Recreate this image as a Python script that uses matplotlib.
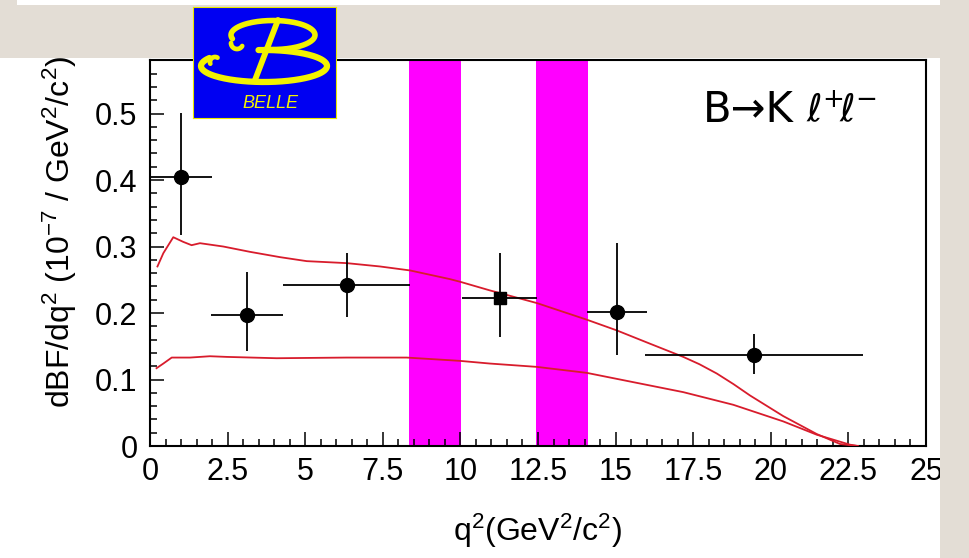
import numpy as np
import matplotlib
matplotlib.use("Agg")
import matplotlib.pyplot as plt
from matplotlib.patches import Rectangle

plt.rcParams['font.family'] = ['Liberation Sans', 'DejaVu Sans']
plt.rcParams['mathtext.default'] = 'regular'

# ---------------- data ----------------
q_center = [0.99, 3.14, 6.34, 11.28, 15.05, 19.46]
dbf = [0.404, 0.197, 0.242, 0.223, 0.202, 0.137]
q_low = [0.00, 1.97, 4.30, 10.04, 14.07, 15.95]
q_high = [2.00, 4.30, 8.38, 12.46, 16.00, 22.98]
err_up = [0.097, 0.064, 0.049, 0.068, 0.103, 0.031]
err_dn = [0.087, 0.054, 0.048, 0.059, 0.065, 0.028]

# theory bands (upper / lower curves)
q_upper = [0.24, 0.43, 0.75, 1.07, 1.34, 1.61, 2.36, 3.22, 4.19, 5.05, 6.34, 7.41,
           8.38, 9.66, 9.99, 10.95, 12.46, 14.07, 15.03, 16.10, 17.18, 17.70, 18.26,
           18.80, 19.33, 20.40, 21.48, 22.23, 22.80]
v_upper = [0.270, 0.290, 0.314, 0.307, 0.302, 0.305, 0.300, 0.292, 0.284, 0.278,
           0.275, 0.270, 0.264, 0.251, 0.247, 0.234, 0.215, 0.190, 0.174, 0.154,
           0.134, 0.123, 0.109, 0.093, 0.076, 0.045, 0.018, 0.003, 0.0]
q_lower = [0.21, 0.43, 0.70, 1.29, 1.93, 2.47, 4.08, 6.34, 8.27, 9.66, 9.99, 10.95,
           12.46, 14.07, 15.57, 17.18, 18.79, 20.40, 21.48, 22.55, 22.80]
v_lower = [0.117, 0.124, 0.133, 0.133, 0.135, 0.134, 0.132, 0.133, 0.133, 0.129,
           0.128, 0.124, 0.119, 0.110, 0.096, 0.081, 0.062, 0.037, 0.017, 0.002, 0.0]

# vetoed charmonium regions
veto_low = [8.35, 12.45]
veto_high = [10.03, 14.12]

x_ticks = [0, 2.5, 5, 7.5, 10, 12.5, 15, 17.5, 20, 22.5, 25]
x_ticklabels = ['0', '2.5', '5', '7.5', '10', '12.5', '15', '17.5', '20', '22.5', '25']
y_ticks = [0, 0.1, 0.2, 0.3, 0.4, 0.5]
y_ticklabels = ['0', '0.1', '0.2', '0.3', '0.4', '0.5']

# ---------------- figure ----------------
W, H = 969, 558
fig = plt.figure(figsize=(W / 100, H / 100), dpi=100, facecolor='white')

def fx(px):
    return px / W

def fy(py):
    return 1 - py / H

ax = fig.add_axes([fx(150), fy(446), fx(926) - fx(150), fy(60) - fy(446)])
ax.set_facecolor('white')
ax.set_xlim(0, 25)
ax.set_ylim(0, 0.5805)

for lo, hi in zip(veto_low, veto_high):
    ax.axvspan(lo, hi, color='#ff00ff', lw=0, zorder=1)

red = '#d81c2c'
ax.plot(q_upper, v_upper, color=red, lw=1.3, zorder=3)
ax.plot(q_lower, v_lower, color=red, lw=1.3, zorder=3)

xc = np.array(q_center)
xerr = [xc - np.array(q_low), np.array(q_high) - xc]
ax.errorbar(q_center, dbf, xerr=xerr, yerr=[err_dn, err_up], fmt='none',
            ecolor='black', elinewidth=1.3, capsize=0, zorder=4)
marker_style = ['o', 'o', 'o', 's', 'o', 'o']
for x, y, m in zip(q_center, dbf, marker_style):
    ax.plot([x], [y], marker=m, color='black', ms=10 if m == 'o' else 9, zorder=5)

ax.set_xticks(x_ticks)
ax.set_xticklabels(x_ticklabels)
ax.set_yticks(y_ticks)
ax.set_yticklabels(y_ticklabels)
ax.set_xticks(np.arange(0, 25.01, 0.5), minor=True)
ax.set_yticks(np.arange(0, 0.58, 0.02), minor=True)
ax.tick_params(axis='both', which='both', direction='in', top=False, right=False,
               width=1.1, color='black')
ax.tick_params(axis='both', which='major', length=10, labelsize=22)
ax.tick_params(axis='both', which='minor', length=5)
ax.tick_params(axis='y', which='major', pad=9)
ax.tick_params(axis='x', which='major', pad=8)
for s in ax.spines.values():
    s.set_linewidth(1.5)
    s.set_color('black')

fig.text(fx(60), fy(232), r'dBF/dq$^{2}$ (10$^{-7}$ / GeV$^{2}$/c$^{2}$)',
         rotation=90, ha='center', va='center', fontsize=23)
fig.text(fx(537), fy(531), r'q$^{2}$(GeV$^{2}$/c$^{2}$)', ha='center', va='center',
         fontsize=23)

fig.text(fx(703), fy(122), 'B\u2192K', ha='left', va='baseline', fontsize=30,
         family='DejaVu Sans')
fig.text(fx(806), fy(122), r'$\ell^{+}\!\ell^{-}$', ha='left', va='baseline',
         fontsize=27, family='DejaVu Sans')

# ---------------- slide background (marble) ----------------
marble = '#e3ddd5'
for (x0, y0, x1, y1) in [(0, 5, W, 58), (0, 0, 17, 5), (955, 0, W, 5), (940, 0, W, H)]:
    fig.add_artist(Rectangle((fx(x0), fy(y1)), fx(x1) - fx(x0), fy(y0) - fy(y1),
                             transform=fig.transFigure, facecolor=marble,
                             edgecolor='none', zorder=10))

# ---------------- Belle logo ----------------
lax = fig.add_axes([fx(193), fy(118), fx(336) - fx(193), fy(7) - fy(118)], zorder=20)
lax.set_xlim(0, 143)
lax.set_ylim(111, 0)
lax.set_facecolor('#0000f2')
lax.set_xticks([])
lax.set_yticks([])
for s in lax.spines.values():
    s.set_color('#e8e800')
    s.set_linewidth(0.8)
yel = '#f2f200'
t = np.radians(np.linspace(150, 455, 200))
lax.plot(71 + 63 * np.cos(t), 59 - 16 * np.sin(t), color=yel, lw=4.5, solid_capstyle='round')
t = np.radians(np.linspace(-100, 195, 200))
lax.plot(80 + 42 * np.cos(t), 28 - 14.5 * np.sin(t), color=yel, lw=4, solid_capstyle='round')
t = np.radians(np.linspace(180, 330, 40))
lax.plot(44 + 6 * np.cos(t), 36 - 6 * np.sin(t), color=yel, lw=3.4, solid_capstyle='round')
lax.plot([85, 62], [13, 73], color=yel, lw=4.2, solid_capstyle='round')
t = np.radians(np.linspace(60, 200, 40))
lax.plot(22 + 5 * np.cos(t), 55 - 5 * np.sin(t), color=yel, lw=3.4, solid_capstyle='round')
lax.text(77, 97, 'BELLE', color=yel, fontsize=13, style='italic', ha='center',
         va='center', family='Liberation Sans')

fig.savefig('out.png', dpi=100, facecolor='white')
